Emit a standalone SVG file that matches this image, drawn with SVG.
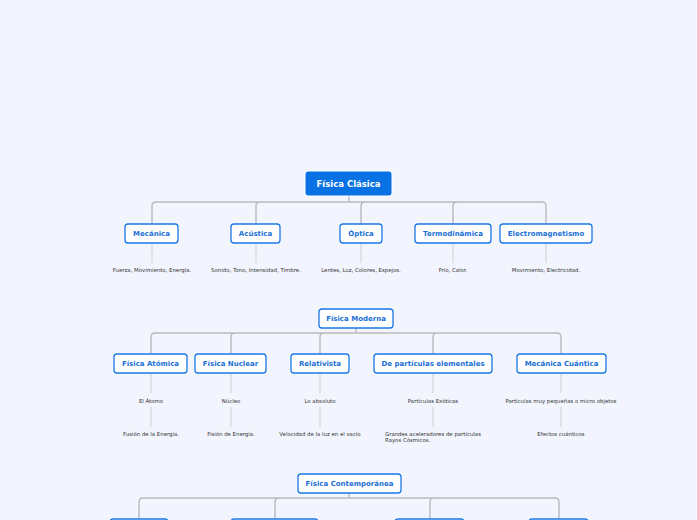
<svg xmlns="http://www.w3.org/2000/svg" width="697" height="520" viewBox="0 0 697 520">
<style>
.bg{fill:#f2f5fe}
.root{fill:#0871e4;stroke:#ffffff;stroke-width:1}
.box{fill:#ffffff;stroke:#1a78e6;stroke-width:1.3}
.rt{font-family:"DejaVu Sans",Verdana,sans-serif;font-weight:bold;font-size:8.5px;fill:#ffffff;text-anchor:middle}
.ct{font-family:"DejaVu Sans",Verdana,sans-serif;font-weight:bold;font-size:7px;fill:#1a6fd6;text-anchor:middle}
.lt{font-family:"DejaVu Sans",Verdana,sans-serif;font-size:5.4px;fill:#333333;text-anchor:middle}
.ll{font-family:"DejaVu Sans",Verdana,sans-serif;font-size:5.4px;fill:#333333}
.con{fill:none;stroke:#b9babf;stroke-width:1.4}
.leaf{fill:none;stroke:#d4d6dc;stroke-width:1.2}
</style>
<rect class="bg" x="0" y="0" width="697" height="520"/>
<g id="connectors">
<path class="con" d="M152 224 V206 Q152 202 156 202 H542 Q546 202 546 206 V224 M256 224 V206 Q256 202 260 202 M361 224 V206 Q361 202 365 202 M453 224 V206 Q453 202 457 202 M349 196 V202"/>
<path class="leaf" d="M152 243 V263 M256 243 V263 M361 243 V263 M453 243 V263 M546 243 V263"/>
<path class="con" d="M151 354 V337 Q151 333 155 333 H557 Q561 333 561 337 V354 M231 354 V337 Q231 333 235 333 M320 354 V337 Q320 333 324 333 M433 354 V337 Q433 333 437 333 M356 328 V333"/>
<path class="leaf" d="M151 373 V393 M231 373 V393 M320 373 V393 M433 373 V393 M561 373 V393 M151 407 V427 M231 407 V427 M320 407 V427 M433 407 V427 M561 407 V427"/>
<path class="con" d="M139 520 V502 Q139 498 143 498 H555 Q559 498 559 502 V520 M275 520 V502 Q275 498 279 498 M430 520 V502 Q430 498 434 498 M349 493 V498"/>
</g>
<g id="fisica-clasica"><rect class="root" x="305" y="171" width="87" height="25" rx="3"/><text class="rt" x="348.5" y="186.5">Física Clásica</text></g>
<g id="mecanica"><rect class="box" x="125" y="224" width="53" height="19" rx="3"/><text class="ct" x="151.5" y="236">Mecánica</text><text class="lt" x="152" y="271.5">Fuerza, Movimiento, Energía.</text></g>
<g id="acustica"><rect class="box" x="231" y="224" width="49" height="19" rx="3"/><text class="ct" x="255.5" y="236">Acústica</text><text class="lt" x="256" y="271.5">Sonido, Tono, Intensidad, Timbre.</text></g>
<g id="optica"><rect class="box" x="340" y="224" width="42" height="19" rx="3"/><text class="ct" x="361" y="236">Óptica</text><text class="lt" x="361" y="271.5">Lentes, Luz, Colores, Espejos.</text></g>
<g id="termodinamica"><rect class="box" x="415" y="224" width="76" height="19" rx="3"/><text class="ct" x="453" y="236">Termodinámica</text><text class="lt" x="453" y="271.5">Frío, Calor.</text></g>
<g id="electromagnetismo"><rect class="box" x="500" y="224" width="92" height="19" rx="3"/><text class="ct" x="546" y="236">Electromagnetismo</text><text class="lt" x="546" y="271.5">Movimiento, Electricidad.</text></g>
<g id="fisica-moderna"><rect class="box" x="319" y="309" width="74" height="19" rx="3"/><text class="ct" x="356" y="321">Física Moderna</text></g>
<g id="fisica-atomica"><rect class="box" x="114" y="354" width="73" height="19" rx="3"/><text class="ct" x="150.5" y="366">Física Atómica</text><text class="lt" x="151" y="402.5">El Átomo</text><text class="lt" x="151" y="435.5">Fusión de la Energía.</text></g>
<g id="fisica-nuclear"><rect class="box" x="195" y="354" width="71" height="19" rx="3"/><text class="ct" x="230.5" y="366">Física Nuclear</text><text class="lt" x="231" y="402.5">Núcleo</text><text class="lt" x="231" y="435.5">Fisión de Energía.</text></g>
<g id="relativista"><rect class="box" x="291" y="354" width="58" height="19" rx="3"/><text class="ct" x="320" y="366">Relativista</text><text class="lt" x="320" y="402.5">Lo absoluto</text><text class="lt" x="320" y="435.5">Velocidad de la luz en el vacío</text></g>
<g id="particulas-elementales"><rect class="box" x="374" y="354" width="118" height="19" rx="3"/><text class="ct" x="433" y="366">De partículas elementales</text><text class="lt" x="433" y="402.5">Partículas Exóticas</text><text class="ll" x="385" y="435.5">Grandes aceleradores de partículas</text><text class="ll" x="385" y="441.5">Rayos Cósmicos.</text></g>
<g id="mecanica-cuantica"><rect class="box" x="517" y="354" width="89" height="19" rx="3"/><text class="ct" x="561.5" y="366">Mecánica Cuántica</text><text class="lt" x="561" y="402.5">Partículas muy pequeñas o micro objetos</text><text class="lt" x="561" y="435.5">Efectos cuánticos</text></g>
<g id="fisica-contemporanea"><rect class="box" x="298" y="474" width="103" height="19" rx="3"/><text class="ct" x="349.5" y="486">Física Contemporánea</text></g>
<g id="contemporanea-1"><rect class="box" x="110" y="519" width="58" height="19" rx="3"/></g>
<g id="contemporanea-2"><rect class="box" x="231" y="519" width="87" height="19" rx="3"/></g>
<g id="contemporanea-3"><rect class="box" x="395" y="519" width="69" height="19" rx="3"/></g>
<g id="contemporanea-4"><rect class="box" x="529" y="519" width="59" height="19" rx="3"/></g>
</svg>
